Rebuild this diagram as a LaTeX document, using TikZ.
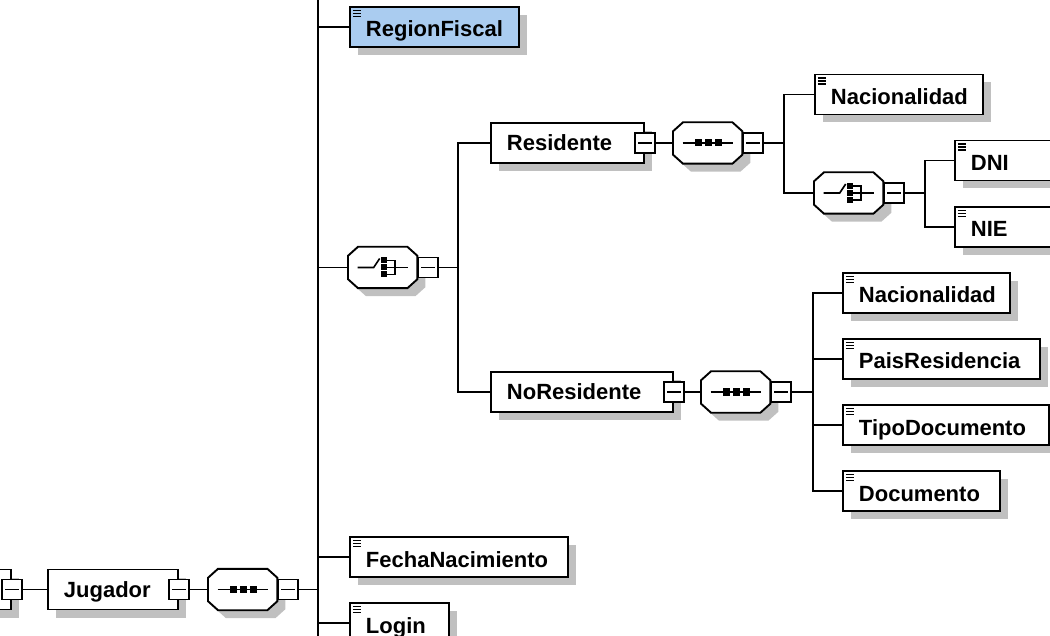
\documentclass[tikz,border=0pt]{standalone}
\usepackage{fontspec}
\setmainfont{Liberation Sans}
\usetikzlibrary{positioning, shadows}
\definecolor{RegionBlue}{RGB}{170,204,240}
\definecolor{ShadowGray}{RGB}{192,192,192}
\tikzset{
    elem/.style={
        draw, line width=1.9pt, fill=white, minimum height=40pt,
        inner xsep=0pt, inner ysep=2pt, text width=#1, align=left,
        text depth=0pt, font=\bfseries\fontsize{22}{24}\selectfont,
        execute at begin node={\noindent\hspace*{16pt}},
        drop shadow={shadow xshift=8pt, shadow yshift=-8pt, fill=ShadowGray, opacity=1}
    },
    complex/.style={
        elem=#1, text height=15pt
    },
    simple/.style={
        elem=#1, text height=20pt,
        path picture={
            \foreach \dy in {3.5pt,6.5pt,9.5pt}
                \draw[black, line width=1.5pt] ([shift={(3pt,-\dy)}]path picture bounding box.north west) -- ++(8pt,0pt);
        }
    },
    % invisible place holder, the octagon is drawn round it
    compositor/.style={
        minimum width=69pt, minimum height=41pt, inner sep=0pt
    },
    octagon/.style={
        insert path={
            ([xshift=10pt]#1.north west) -- ([xshift=-10pt]#1.north east) -- ([yshift=-9pt]#1.north east)
            -- ([yshift=9pt]#1.south east) -- ([xshift=-10pt]#1.south east) -- ([xshift=10pt]#1.south west)
            -- ([yshift=9pt]#1.south west) -- ([yshift=-9pt]#1.north west) -- cycle
        }
    },
    compbox/.style={
        draw, line width=1.9pt, fill=white,
        drop shadow={shadow xshift=8pt, shadow yshift=-8pt, fill=ShadowGray, opacity=1}
    },
    sequence/.style={
        compbox,
        path picture={
            \draw[black, line width=1.6pt] ([xshift=-25pt]path picture bounding box.center) -- ([xshift=25pt]path picture bounding box.center);
            \foreach \dx in {-13pt,-3pt,7pt}
                \fill[black] ([shift={(\dx,-3.5pt)}]path picture bounding box.center) rectangle ++(7pt,7pt);
        }
    },
    choice/.style={
        compbox,
        path picture={
            \draw[black, line width=1.6pt] ([xshift=-25pt]path picture bounding box.center) -- ++(16pt,0pt) -- ++(6pt,9pt);
            \foreach \dy in {-7pt,0pt,7pt}
                \fill[black] ([shift={(-1.5pt,\dy-3pt)}]path picture bounding box.center) rectangle ++(6pt,6pt);
            \draw[black, line width=1.6pt] ([shift={(4pt,7pt)}]path picture bounding box.center) -- ++(8pt,0pt) -- ++(0pt,-14pt) -- ++(-8pt,0pt);
            \draw[black, line width=1.6pt] ([xshift=4pt]path picture bounding box.center) -- ([xshift=25pt]path picture bounding box.center);
        }
    },
    toggle/.style={
        draw, line width=1.6pt, fill=white, minimum size=20pt, inner sep=0pt,
        path picture={
            \draw[black, line width=1.5pt] ([xshift=3pt]path picture bounding box.west) -- ([xshift=-3pt]path picture bounding box.east);
        }
    },
    link/.style={
        line width=1.8pt
    }
}
\begin{document}
\begin{tikzpicture}[x=1pt, y=-1pt]
    \useasboundingbox (0,0) rectangle (1050,636);
    \clip (0,0) rectangle (1050,636);

    % parent element, only its end is in view
    \node[complex=80pt, anchor=east] (root) at (12,589.5) {};
    \node[toggle] (root-t) at (root.east) {};

    \node[complex=130pt, anchor=west] (jug) at (47,589.5) {Jugador};
    \node[toggle] (jug-t) at (jug.east) {};
    \node[compositor, anchor=west] (seqA) at (208,589.5) {};
    \path[sequence, octagon=seqA];
    \node[toggle, anchor=west] (seqA-t) at (seqA.east) {};

    % children of Jugador
    \node[simple=169pt, fill=RegionBlue, anchor=west] (region) at (349,27) {RegionFiscal};
    \node[compositor, anchor=west] (chA) at (348,267.5) {};
    \path[choice, octagon=chA];
    \node[toggle, anchor=west] (chA-t) at (chA.east) {};
    \node[simple=218pt, anchor=west] (fecha) at (349,557) {FechaNacimiento};
    \node[simple=99pt, anchor=west] (login) at (349,623) {Login};

    % Residente
    \node[complex=153pt, anchor=west] (res) at (490,143) {Residente};
    \node[toggle] (res-t) at (res.east) {};
    \node[compositor, anchor=west] (seqB) at (673,143) {};
    \path[sequence, octagon=seqB];
    \node[toggle, anchor=west] (seqB-t) at (seqB.east) {};
    \node[simple=168pt, anchor=west] (nacB) at (814,94.5) {Nacionalidad};
    \node[compositor, anchor=west] (chB) at (814,193) {};
    \path[choice, octagon=chB];
    \node[toggle, anchor=west] (chB-t) at (chB.east) {};
    \node[simple=120pt, anchor=west] (dni) at (954,160.5) {DNI};
    \node[simple=120pt, anchor=west] (nie) at (954,227) {NIE};

    % NoResidente
    \node[complex=182pt, anchor=west] (nores) at (490,392) {NoResidente};
    \node[toggle] (nores-t) at (nores.east) {};
    \node[compositor, anchor=west] (seqC) at (701,392) {};
    \path[sequence, octagon=seqC];
    \node[toggle, anchor=west] (seqC-t) at (seqC.east) {};
    \node[simple=167pt, anchor=west] (nacC) at (842,293) {Nacionalidad};
    \node[simple=197pt, anchor=west] (pais) at (842,359) {PaisResidencia};
    \node[simple=206pt, anchor=west] (tipo) at (842,425) {TipoDocumento};
    \node[simple=157pt, anchor=west] (doc) at (842,491) {Documento};

    % bus lines
    \coordinate (busA) at (318,589.5);
    \coordinate (busA-top) at (318,-10);
    \coordinate (busA-bot) at (318,650);
    \coordinate (busB) at (458,267.5);
    \coordinate (busC) at (784,143);
    \coordinate (busD) at (925,193);
    \coordinate (busE) at (813,392);

    \draw[link] (root-t.east) -- (jug.west);
    \draw[link] (jug-t.east) -- (seqA.west);
    \draw[link] (busA-top) -- (busA-bot);
    \foreach \c in {region, chA, fecha, login}
        \draw[link] (seqA-t.east) -| (busA) |- (\c.west);
    \foreach \c in {res, nores}
        \draw[link] (chA-t.east) -| (busB) |- (\c.west);
    \draw[link] (res-t.east) -- (seqB.west);
    \foreach \c in {nacB, chB}
        \draw[link] (seqB-t.east) -| (busC) |- (\c.west);
    \foreach \c in {dni, nie}
        \draw[link] (chB-t.east) -| (busD) |- (\c.west);
    \draw[link] (nores-t.east) -- (seqC.west);
    \foreach \c in {nacC, pais, tipo, doc}
        \draw[link] (seqC-t.east) -| (busE) |- (\c.west);
\end{tikzpicture}
\end{document}
